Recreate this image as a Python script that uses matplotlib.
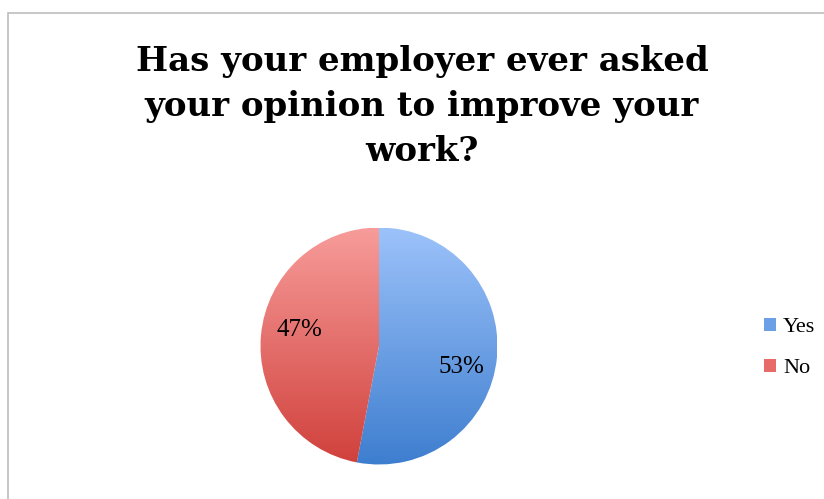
import numpy as np
import matplotlib
matplotlib.use("Agg")
import matplotlib.pyplot as plt
from matplotlib.patches import Patch, Rectangle
from matplotlib.colors import LinearSegmentedColormap

title = "Has your employer ever asked\nyour opinion to improve your\nwork?"
labels = ["Yes", "No"]
shares = [53, 47]
# top/bottom colours of the vertical gradient for each slice
top_colors = ["#9cc2fa", "#f79c9a"]
bottom_colors = ["#3e7ecf", "#d0403b"]

W, H = 824, 499
fig = plt.figure(figsize=(W / 100, H / 100), dpi=100)
ax = fig.add_axes([0, 0, 1, 1])

cx, cy, r = 379, H - 346, 118.5
wedges, texts = ax.pie(shares, startangle=90, counterclock=False,
                       center=(cx, cy), radius=r,
                       wedgeprops=dict(linewidth=0))

grad = np.linspace(0, 1, 256).reshape(-1, 1)
for w, c0, c1 in zip(wedges, top_colors, bottom_colors):
    w.set_facecolor("none")
    cmap = LinearSegmentedColormap.from_list("g", [c0, c1])
    im = ax.imshow(grad, cmap=cmap, aspect="auto", origin="upper",
                   extent=(cx - r, cx + r, cy - r, cy + r), zorder=1)
    im.set_clip_path(w)

# percentage labels inside the slices
label_pos = [(461, H - 367), (299, H - 330)]
for (x, y), v in zip(label_pos, shares):
    ax.text(x, y, f"{v}%", ha="center", va="center", fontsize=18,
            family="Liberation Serif", zorder=3)

ax.set_xlim(0, W)
ax.set_ylim(0, H)
ax.set_aspect("equal")
ax.axis("off")

# chart border
ax.add_patch(Rectangle((8, -5), W, H - 13 + 5, fill=False,
                       edgecolor="#bdbdbd", linewidth=1.2, zorder=0))

fig.text(0.512, 1 - 45 / H, title, ha="center", va="top",
         fontsize=24.5, fontweight="bold", family="DejaVu Serif",
         linespacing=1.47)

handles = [Patch(facecolor=c, edgecolor="none")
           for c in ["#6b9fe6", "#e66b69"]]
fig.legend(handles, labels, loc="center left",
           bbox_to_anchor=(744 / W, 1 - 348 / H), frameon=False,
           prop=dict(family="Liberation Serif", size=16),
           handlelength=0.55, handleheight=0.55, handletextpad=0.3,
           labelspacing=0.98)

fig.savefig("out.png", dpi=100)
